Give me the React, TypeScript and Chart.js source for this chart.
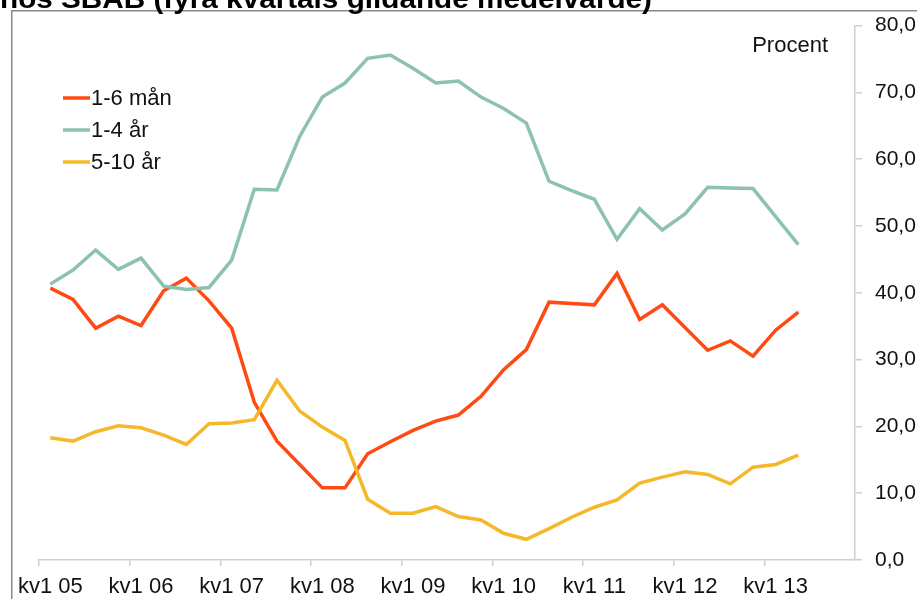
import React, { useEffect, useRef } from "react";
import { Chart, registerables } from "chart.js";

Chart.register(...registerables);

const categories = [
  "kv1 05", "kv2 05", "kv3 05", "kv4 05",
  "kv1 06", "kv2 06", "kv3 06", "kv4 06",
  "kv1 07", "kv2 07", "kv3 07", "kv4 07",
  "kv1 08", "kv2 08", "kv3 08", "kv4 08",
  "kv1 09", "kv2 09", "kv3 09", "kv4 09",
  "kv1 10", "kv2 10", "kv3 10", "kv4 10",
  "kv1 11", "kv2 11", "kv3 11", "kv4 11",
  "kv1 12", "kv2 12", "kv3 12", "kv4 12",
  "kv1 13", "kv2 13", "kv3 13", "kv4 13",
];

const manader1_6 = [
  40.7, 39.0, 34.7, 36.5, 35.1, 40.3, 42.2, 38.8, 34.7, 23.6,
  17.8, 14.3, 10.8, 10.8, 15.9, 17.7, 19.4, 20.8, 21.7, 24.5,
  28.5, 31.5, 38.6, 38.4, 38.2, 42.9, 36.0, 38.2, 34.8, 31.4,
  32.8, 30.5, 34.4, 37.1, null, null,
];

const ar1_4 = [
  41.3, 43.4, 46.4, 43.5, 45.2, 41.0, 40.5, 40.8, 44.9, 55.5,
  55.4, 63.4, 69.3, 71.4, 75.1, 75.6, 73.6, 71.4, 71.7, 69.3,
  67.6, 65.4, 56.7, 55.3, 54.0, 48.0, 52.6, 49.4, 51.8, 55.8,
  55.7, 55.6, 51.4, 47.2, null, null,
];

const ar5_10 = [
  18.3, 17.8, 19.2, 20.1, 19.8, 18.7, 17.3, 20.4, 20.5, 21.0,
  26.9, 22.3, 19.9, 17.9, 9.1, 7.0, 7.0, 8.0, 6.5, 6.0,
  4.0, 3.1, 4.7, 6.4, 7.9, 9.0, 11.5, 12.4, 13.2, 12.8,
  11.4, 13.9, 14.3, 15.7, null, null,
];

const seriesLabels = ["1-6 mån", "1-4 år", "5-10 år"];
const seriesColors = ["#FF4A14", "#8DC3AC", "#F5B82A"];
const titleText = "hos SBAB (fyra kvartals glidande medelvärde)";
const unitText = "Procent";

const FONT = "'Liberation Sans', Arial, sans-serif";

const decor = {
  id: "decor",
  beforeDraw(chart: any) {
    const ctx = chart.ctx;
    ctx.save();
    ctx.strokeStyle = "#8a8a8a";
    ctx.lineWidth = 1.5;
    ctx.beginPath();
    ctx.moveTo(11.75, 599);
    ctx.lineTo(11.75, 10.75);
    ctx.lineTo(917, 10.75);
    ctx.stroke();
    ctx.restore();
  },
  afterDraw(chart: any) {
    const ctx = chart.ctx;
    ctx.save();
    // title (cut off at top)
    ctx.fillStyle = "#000";
    ctx.font = `bold 28px ${FONT}`;
    ctx.textBaseline = "alphabetic";
    ctx.textAlign = "left";
    const w = ctx.measureText(titleText).width;
    ctx.save();
    ctx.translate(0, 7.5);
    ctx.scale(652 / w, 1);
    ctx.fillText(titleText, 0, 0);
    ctx.restore();
    // unit
    ctx.font = `22px ${FONT}`;
    ctx.textAlign = "right";
    ctx.fillStyle = "#111";
    ctx.fillText(unitText, 828, 52);
    // legend
    ctx.textAlign = "left";
    ctx.textBaseline = "middle";
    chart.data.datasets.forEach((ds: any, i: number) => {
      const y = 98 + 32 * i;
      ctx.strokeStyle = ds.borderColor;
      ctx.lineWidth = 3.5;
      ctx.beginPath();
      ctx.moveTo(63, y);
      ctx.lineTo(90, y);
      ctx.stroke();
      ctx.fillStyle = "#111";
      ctx.fillText(ds.label, 91, y + 1);
    });
    ctx.restore();
  },
};

export default function App() {
  const ref = useRef<HTMLCanvasElement>(null);
  useEffect(() => {
    if (!ref.current) return;
    const chart = new Chart(ref.current, {
      type: "line",
      data: {
        labels: categories,
        datasets: [
          { label: seriesLabels[0], data: manader1_6, borderColor: seriesColors[0], backgroundColor: seriesColors[0], order: 2 },
          { label: seriesLabels[1], data: ar1_4, borderColor: seriesColors[1], backgroundColor: seriesColors[1], order: 1 },
          { label: seriesLabels[2], data: ar5_10, borderColor: seriesColors[2], backgroundColor: seriesColors[2], order: 0 },
        ].map((d) => ({ ...d, borderWidth: 3.5, pointRadius: 0, tension: 0, fill: false })),
      },
      options: {
        animation: false,
        responsive: false,
        layout: { padding: { left: 39, top: 24, right: 0, bottom: 0 } },
        plugins: { legend: { display: false }, tooltip: { enabled: false }, title: { display: false } },
        scales: {
          x: {
            offset: true,
            grid: {
              offset: true,
              drawOnChartArea: false,
              tickLength: 6,
              color: (c: any) => (c.index % 4 === 0 ? "#cfcfcf" : "rgba(0,0,0,0)"),
              lineWidth: 1.5,
            },
            border: { display: true, color: "#cfcfcf", width: 1.5 },
            ticks: {
              autoSkip: false,
              maxRotation: 0,
              minRotation: 0,
              padding: 8,
              color: "#111",
              font: { family: FONT, size: 22 },
              callback: (v: any, i: number) => (i % 4 === 0 ? categories[i] : ""),
            },
            afterFit: (s: any) => { s.height = 39; },
          },
          y: {
            position: "right",
            min: 0,
            max: 80,
            grid: { drawOnChartArea: false, tickLength: 7, color: "#cfcfcf", lineWidth: 1.5 },
            border: { display: true, color: "#cfcfcf", width: 1.5 },
            ticks: {
              stepSize: 10,
              padding: 13,
              color: "#111",
              font: { family: FONT, size: 21 },
              callback: (v: any) => Number(v).toFixed(1).replace(".", ","),
            },
            afterFit: (s: any) => { s.width = 62; },
          },
        },
      },
      plugins: [decor],
    });
    return () => chart.destroy();
  }, []);
  return (
    <div style={{ position: "fixed", left: 0, top: 0, width: 917, height: 599, background: "#fff" }}>
      <canvas ref={ref} width={917} height={599} style={{ display: "block" }} />
    </div>
  );
}
